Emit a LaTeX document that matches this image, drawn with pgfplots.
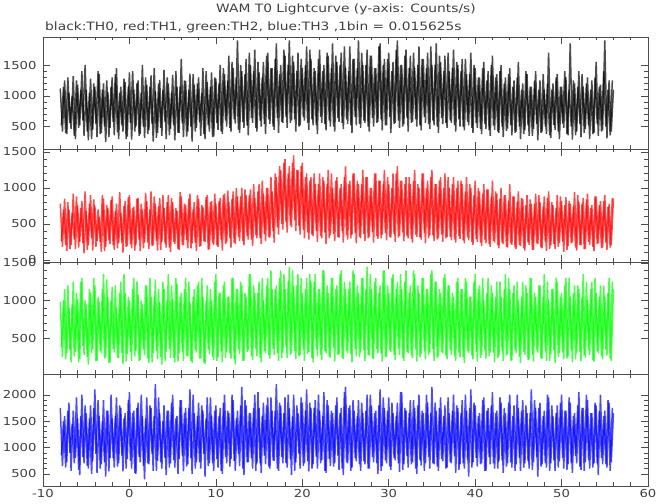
\documentclass[border=0pt]{standalone}
\usepackage{fontspec}
\setmainfont{DejaVu Sans}[FakeStretch=1.2]
\usepackage{pgfplots}
\pgfplotsset{compat=1.18}
\usepackage{pgfplotstable}

% bins on the quarter-second grid
\pgfplotstableread{
x b r g u
-8.00 1120 780 980 1750
-7.75 420 180 250 650
-7.50 1250 850 1150 1600
-7.25 380 120 300 720
-7.00 1050 700 900 1850
-6.75 460 210 180 560
-6.50 1320 920 1250 1700
-6.25 300 150 320 800
-6.00 1180 760 1020 1550
-5.75 520 250 220 480
-5.50 1400 820 1300 2000
-5.25 350 90 280 700
-5.00 1100 680 950 1650
-4.75 280 200 150 600
-4.50 1280 900 1100 1800
-4.25 450 130 350 750
-4.00 1150 750 1200 2100
-3.75 330 260 200 520
-3.50 1350 600 980 1600
-3.25 400 110 300 680
-3.00 1200 850 1350 1900
-2.75 250 180 250 450
-2.50 1060 720 1050 1700
-2.25 480 220 180 800
-2.00 1300 880 1180 1550
-1.75 360 140 310 620
-1.50 1450 780 900 1950
-1.25 300 230 240 700
-1.00 1150 650 1250 1750
-0.75 420 100 160 550
-0.50 1220 820 1100 1650
-0.25 340 190 290 780
0.00 1380 900 1000 2050
0.25 290 160 200 600
0.50 1100 740 1300 1700
0.75 500 210 330 500
1.00 1250 860 1080 1850
1.25 380 120 210 720
1.50 1500 700 950 1600
1.75 320 240 280 400
2.00 1180 820 1200 1950
2.25 440 150 170 680
2.50 1330 950 1050 1750
2.75 260 200 300 560
3.00 1080 780 1280 2200
3.25 400 130 220 750
3.50 1260 860 980 1650
3.75 350 250 150 600
4.00 1420 720 1150 1800
4.25 300 170 320 480
4.50 1200 900 1350 1700
4.75 460 110 240 700
5.00 1340 800 1020 2000
5.25 280 220 180 620
5.50 1150 680 1220 1600
5.75 400 140 300 780
6.00 1600 880 1100 1900
6.25 330 200 200 550
6.50 1240 760 1300 1750
6.75 420 160 260 680
7.00 1360 920 980 2100
7.25 260 230 170 500
7.50 1180 800 1150 1650
7.75 480 120 310 720
8.00 1300 850 1250 1850
8.25 350 190 230 600
8.50 1450 740 1050 1700
8.75 300 250 160 450
9.00 1220 900 1200 1950
9.25 420 150 290 700
9.50 1380 820 1000 1600
9.75 340 210 210 560
10.00 1280 780 1350 1800
10.25 450 180 250 620
10.50 1500 860 1100 1750
10.75 380 130 180 500
11.00 1350 920 1250 2000
11.25 500 240 320 700
11.50 1650 800 1050 1650
11.75 420 170 230 780
12.00 1450 950 1300 1900
12.25 550 220 150 560
12.50 1900 880 1150 1700
12.75 400 260 290 650
13.00 1400 1000 1200 2150
13.25 480 200 200 480
13.50 1600 900 1050 1800
13.75 360 280 340 720
14.00 1500 980 1350 1650
14.25 560 190 210 600
14.50 1750 860 1100 2000
14.75 420 300 260 700
15.00 1380 1050 1250 1750
15.25 500 220 180 520
15.50 1550 920 1000 1850
15.75 380 260 300 680
16.00 1700 1000 1300 1950
16.25 540 310 230 600
16.50 1450 950 1150 1700
16.75 450 240 280 750
17.00 1850 1150 1200 2200
17.25 400 350 200 560
17.50 1500 1250 1400 1800
17.75 560 420 310 700
18.00 1650 1400 1150 1950
18.25 480 380 240 620
18.50 1900 1300 1450 1750
18.75 600 450 300 480
19.00 1550 1450 1200 2000
19.25 420 400 220 720
19.50 1700 1250 1350 1650
19.75 520 350 280 600
20.00 1450 1350 1100 1850
20.25 600 300 200 700
20.50 1800 1200 1300 2100
20.75 450 280 320 550
21.00 1600 1150 1250 1750
21.25 520 330 180 680
21.50 1400 1050 1350 1900
21.75 380 250 260 600
22.00 1750 1200 1150 1700
22.25 560 300 210 760
22.50 1500 1100 1400 2050
22.75 440 220 300 520
23.00 1650 1250 1100 1800
23.25 500 340 240 650
23.50 1850 1000 1300 1650
23.75 420 260 190 700
24.00 1550 1150 1200 1950
24.25 580 310 290 580
24.50 1700 1050 1400 1750
24.75 460 240 220 480
25.00 1450 1300 1150 2150
25.25 540 280 300 700
25.50 1800 1100 1250 1800
25.75 400 350 180 620
26.00 1600 1200 1350 1700
26.25 520 230 260 740
26.50 1900 1050 1100 1900
26.75 480 300 310 560
27.00 1500 1250 1300 1650
27.25 560 260 200 680
27.50 1750 1150 1450 2000
27.75 420 320 270 600
28.00 1650 1000 1150 1800
28.25 500 240 220 720
28.50 1450 1200 1300 1700
28.75 580 290 300 500
29.00 1850 1100 1200 2100
29.25 440 350 190 650
29.50 1600 1250 1400 1750
29.75 520 270 250 700
30.00 1700 1050 1100 1950
30.25 400 310 320 580
30.50 1550 1200 1350 1650
30.75 560 250 210 760
31.00 1900 1300 1250 1850
31.25 480 330 280 540
31.50 1500 1100 1150 2050
31.75 540 260 200 680
32.00 1750 1150 1400 1700
32.25 420 300 300 620
32.50 1650 1050 1200 1900
32.75 580 240 240 720
33.00 1450 1250 1350 1750
33.25 500 320 190 500
33.50 1800 1000 1100 2000
33.75 440 280 290 660
34.00 1600 1200 1300 1650
34.25 560 230 220 700
34.50 1700 1100 1150 1850
34.75 460 340 310 600
35.00 1500 1250 1400 2150
35.25 520 260 200 680
35.50 1850 1050 1250 1700
35.75 400 300 260 560
36.00 1550 1150 1100 1950
36.25 540 250 300 740
36.50 1650 1200 1350 1800
36.75 480 320 220 620
37.00 1400 1000 1200 1650
37.25 560 270 280 700
37.50 1750 1150 1050 2000
37.75 420 240 200 520
38.00 1500 1100 1300 1750
38.25 500 290 250 680
38.50 1600 1050 1150 1900
38.75 440 230 170 600
39.00 1350 1150 1250 1700
39.25 520 270 300 450
39.50 1700 1000 1050 2100
39.75 400 210 220 720
40.00 1450 1100 1350 1800
40.25 480 250 190 640
40.50 1300 950 1200 1650
40.75 380 190 280 700
41.00 1550 1050 1000 1950
41.25 460 230 230 560
41.50 1400 980 1300 1750
41.75 350 180 310 680
42.00 1650 1100 1100 2050
42.25 450 240 180 600
42.50 1350 920 1250 1700
42.75 400 160 260 740
43.00 1500 1000 1050 1850
43.25 330 220 200 520
43.50 1300 900 1350 1650
43.75 470 170 290 700
44.00 1450 1050 1150 2000
44.25 360 210 210 620
44.50 1250 880 1200 1800
44.75 420 150 300 680
45.00 1550 950 1000 1750
45.25 300 190 170 560
45.50 1200 850 1250 1900
45.75 440 130 280 700
46.00 1350 900 1100 1650
46.25 350 210 220 600
46.50 1150 780 1300 2100
46.75 460 140 190 720
47.00 1400 920 1050 1750
47.25 280 220 310 450
47.50 1250 800 1200 1850
47.75 420 160 230 680
48.00 1100 880 1350 1700
48.25 380 120 200 620
48.50 1700 950 1000 1950
48.75 320 200 290 700
49.00 1200 760 1150 1600
49.25 450 150 170 560
49.50 1350 900 1250 1800
49.75 300 230 300 740
50.00 1150 820 1100 2000
50.25 480 110 220 600
50.50 1300 870 1300 1700
50.75 360 190 260 680
51.00 1850 780 1050 1850
51.25 290 240 180 520
51.50 1200 940 1200 1650
51.75 420 130 310 700
52.00 1400 800 1150 2050
52.25 330 200 200 580
52.50 1150 860 1350 1750
52.75 460 150 240 720
53.00 1300 920 1000 1900
53.25 300 210 280 600
53.50 1250 760 1250 1650
53.75 400 120 190 700
54.00 1550 880 1100 1800
54.25 350 230 300 480
54.50 1180 820 1200 2000
54.75 440 170 220 680
55.00 1900 900 1050 1700
55.25 310 140 270 620
55.50 1250 780 1300 1850
55.75 420 200 200 720
56.00 1100 850 1150 1650
}\lca

% bins offset by an eighth of a second
\pgfplotstableread{
x b r g u
-7.875 520 260 380 850
-7.625 1150 700 1000 1500
-7.375 400 200 220 620
-7.125 1300 800 1200 1700
-6.875 560 150 350 900
-6.625 1000 650 950 1450
-6.375 350 280 260 700
-6.125 1250 880 1100 1950
-5.875 480 170 180 580
-5.625 1100 720 1250 1600
-5.375 600 230 400 820
-5.125 1500 950 1000 1800
-4.875 420 140 250 650
-4.625 1050 780 1150 1550
-4.375 300 300 300 500
-4.125 1200 840 1300 1750
-3.875 550 180 200 880
-3.625 1400 700 1050 1900
-3.375 380 250 340 600
-3.125 1100 900 1150 1500
-2.875 500 120 230 720
-2.625 1250 760 1280 1700
-2.375 330 270 170 550
-2.125 1150 830 1000 2000
-1.875 580 200 360 800
-1.625 1350 680 1200 1600
-1.375 410 160 240 640
-1.125 1050 940 1100 1800
-0.875 520 240 300 850
-0.625 1280 750 1350 1550
-0.375 300 180 190 600
-0.125 1150 870 1050 1900
0.125 560 220 320 750
0.375 1400 720 1150 1650
0.625 420 130 260 520
0.875 1200 850 1250 1750
1.125 350 280 200 820
1.375 1050 780 1000 2000
1.625 500 160 350 650
1.875 1300 930 1200 1550
2.125 380 240 230 700
2.375 1150 700 1300 1800
2.625 540 190 180 880
2.875 1450 880 1050 1600
3.125 320 260 330 560
3.375 1200 750 1150 1950
3.625 480 140 250 720
3.875 1100 900 1250 1500
4.125 580 230 200 800
4.375 1300 800 1000 1700
4.625 360 170 360 620
4.875 1050 860 1200 1850
5.125 520 250 240 760
5.375 1400 720 1300 1550
5.625 400 150 190 500
5.875 1150 940 1050 1900
6.125 550 210 320 850
6.375 1250 780 1150 1650
6.625 340 270 260 640
6.875 1100 850 1250 1750
7.125 500 160 200 800
7.375 1350 700 1050 2000
7.625 420 240 340 600
7.875 1200 900 1200 1600
8.125 580 180 230 720
8.375 1050 760 1300 1800
8.625 380 260 180 880
8.875 1400 870 1000 1550
9.125 520 140 350 650
9.375 1150 800 1150 1950
9.625 330 230 250 700
9.875 1300 920 1250 1700
10.125 560 200 200 780
10.375 1200 820 1100 1600
10.625 420 280 330 560
10.875 1450 900 1200 1850
11.125 600 220 240 820
11.375 1250 960 1050 1700
11.625 480 300 300 640
11.875 1550 850 1300 2000
12.125 620 240 220 750
12.375 1300 1000 1150 1550
12.625 450 320 350 880
12.875 1500 880 1250 1800
13.125 580 260 200 600
13.375 1350 980 1100 1900
13.625 520 330 320 720
13.875 1700 900 1350 1650
14.125 640 280 260 800
14.375 1400 1050 1200 1750
14.625 480 340 360 560
14.875 1550 950 1100 2050
15.125 600 300 240 700
15.375 1300 1100 1300 1600
15.625 540 360 330 850
15.875 1650 1000 1200 1800
16.125 620 320 280 640
16.375 1450 1150 1400 1950
16.625 500 400 360 760
16.875 1600 1200 1150 1700
17.125 640 450 300 600
17.375 1350 1300 1300 1850
17.625 580 500 240 820
17.875 1750 1350 1350 1650
18.125 660 520 380 700
18.375 1500 1200 1250 2000
18.625 560 480 280 780
18.875 1650 1350 1400 1600
19.125 620 550 330 560
19.375 1400 1250 1200 1800
19.625 500 470 260 880
19.875 1600 1300 1300 1950
20.125 650 420 350 650
20.375 1500 1150 1150 1700
20.625 560 380 290 740
20.875 1750 1100 1350 1850
21.125 620 350 240 600
21.375 1450 1200 1250 1750
21.625 520 400 360 820
21.875 1600 1050 1150 2000
22.125 660 330 280 700
22.375 1400 1150 1400 1600
22.625 540 380 330 560
22.875 1700 1050 1200 1900
23.125 600 300 250 780
23.375 1450 1200 1300 1700
23.625 500 360 370 640
23.875 1650 1100 1150 1800
24.125 640 320 280 850
24.375 1500 1000 1350 1650
24.625 560 400 240 600
24.875 1800 1150 1250 2050
25.125 620 340 330 720
25.375 1400 1050 1150 1750
25.625 520 300 290 560
25.875 1600 1200 1400 1900
26.125 660 380 360 800
26.375 1450 1100 1200 1600
26.625 540 320 250 680
26.875 1700 1050 1300 1850
27.125 600 360 340 740
27.375 1500 1150 1150 1700
27.625 500 300 280 600
27.875 1650 1000 1350 2000
28.125 640 390 230 820
28.375 1450 1200 1250 1650
28.625 560 330 360 700
28.875 1800 1100 1100 1800
29.125 620 300 300 560
29.375 1500 1050 1400 1950
29.625 520 370 250 760
29.875 1600 1150 1200 1700
30.125 660 320 340 640
30.375 1400 1000 1300 1850
30.625 540 360 280 800
30.875 1750 1200 1150 1600
31.125 600 310 360 700
31.375 1500 1100 1350 2050
31.625 500 380 240 580
31.875 1650 1050 1250 1750
32.125 640 330 320 840
32.375 1450 1150 1100 1650
32.625 560 290 270 680
32.875 1700 1100 1400 1900
33.125 620 350 350 600
33.375 1500 1050 1200 1800
33.625 520 310 250 760
33.875 1600 1200 1300 1700
34.125 660 370 330 560
34.375 1450 1000 1150 2000
34.625 540 300 280 820
34.875 1800 1150 1350 1650
35.125 600 340 360 700
35.375 1500 1050 1250 1850
35.625 500 280 240 640
35.875 1650 1100 1150 1750
36.125 640 350 320 780
36.375 1400 1000 1300 1600
36.625 560 300 270 600
36.875 1700 1150 1200 1950
37.125 600 320 340 720
37.375 1450 1050 1100 1700
37.625 520 280 260 840
37.875 1550 1000 1250 1800
38.125 620 330 310 580
38.375 1400 1100 1150 1650
38.625 500 270 250 700
38.875 1600 950 1300 2000
39.125 580 310 330 760
39.375 1350 1050 1050 1750
39.625 480 250 270 620
39.875 1500 900 1250 1850
40.125 560 290 320 800
40.375 1300 1000 1150 1600
40.625 460 240 240 680
40.875 1450 920 1300 1900
41.125 540 280 340 560
41.375 1250 980 1100 1700
41.625 440 220 260 820
41.875 1500 880 1200 1800
42.125 520 260 310 700
42.375 1300 950 1050 1650
42.625 420 200 240 600
42.875 1400 850 1250 1950
43.125 500 240 330 760
43.375 1200 900 1150 1750
43.625 430 180 270 640
43.875 1350 820 1300 1850
44.125 520 230 200 720
44.375 1150 880 1100 1600
44.625 400 170 340 560
44.875 1300 800 1250 2000
45.125 500 210 250 800
45.375 1100 860 1050 1700
45.625 380 160 320 620
45.875 1400 760 1200 1800
46.125 520 240 210 740
46.375 1150 840 1300 1650
46.625 350 140 280 580
46.875 1250 780 1100 1900
47.125 540 230 350 820
47.375 1100 900 1200 1750
47.625 400 170 230 640
47.875 1350 740 1050 1600
48.125 500 250 330 700
48.375 1200 860 1250 2000
48.625 360 150 200 560
48.875 1100 800 1150 1800
49.125 530 220 340 760
49.375 1300 720 1300 1650
49.625 420 180 250 620
49.875 1150 880 1050 1850
50.125 550 250 310 800
50.375 1400 760 1200 1700
50.625 380 140 230 580
50.875 1100 820 1300 1950
51.125 500 230 350 700
51.375 1250 740 1100 1600
51.625 360 170 220 840
51.875 1150 900 1200 1800
52.125 540 210 320 640
52.375 1350 780 1050 1750
52.625 400 150 270 560
52.875 1200 840 1250 2000
53.125 520 250 340 760
53.375 1100 720 1150 1650
53.625 380 180 210 620
53.875 1300 880 1300 1850
54.125 550 220 330 700
54.375 1150 760 1050 1700
54.625 420 160 260 800
54.875 1400 820 1200 1600
55.125 500 240 350 680
55.375 1100 740 1100 1900
55.625 360 170 230 560
55.875 1250 860 1250 1750
}\lcb

\pgfplotsset{
  panel/.style={
    scale only axis, width=605pt, height=112pt, anchor=south west,
    xmin=-10, xmax=60, xtick={-10,0,...,60}, minor x tick num=4,
    minor y tick num=4,
    tick align=inside, xtick pos=both, ytick pos=both,
    major tick length=7pt, minor tick length=3.5pt,
    axis line style={black!70, line width=0.6pt},
    every tick/.style={black!70, line width=0.5pt},
    tick label style={font=\fontsize{11}{12}\selectfont, text=black!75},
    /pgf/number format/assume math mode=true,
    /pgf/number format/1000 sep={},
    yticklabel style={xshift=-3pt},
  },
  series/.style={line width=1.5pt, opacity=0.7, line join=miter, miter limit=2},
}

\begin{document}
\begin{tikzpicture}
\useasboundingbox (0,0) rectangle (657pt,504pt);
\begin{axis}[panel, at={(43pt,355pt)}, ymin=138, ymax=1954, ytick={500,1000,1500}, xticklabels={}]
\addplot[series, black] table[x=x, y=b] {\lca};
\addplot[series, black] table[x=x, y=b] {\lcb};
\end{axis}
\begin{axis}[panel, at={(43pt,242pt)}, height=113pt, ymin=-30, ymax=1540, ytick={0,500,1000,1500}, xticklabels={}]
\addplot[series, red] table[x=x, y=r] {\lca};
\addplot[series, red] table[x=x, y=r] {\lcb};
\end{axis}
\begin{axis}[panel, at={(43pt,130pt)}, ymin=27, ymax=1510, ytick={500,1000,1500}, xticklabels={}]
\addplot[series, green] table[x=x, y=g] {\lca};
\addplot[series, green] table[x=x, y=g] {\lcb};
\end{axis}
\begin{axis}[panel, at={(43pt,18pt)}, ymin=272, ymax=2393, ytick={500,1000,1500,2000}]
\addplot[series, blue] table[x=x, y=u] {\lca};
\addplot[series, blue] table[x=x, y=u] {\lcb};
\end{axis}
\node[font=\fontsize{11.5}{12}\selectfont, text=black!75, anchor=base] at (346pt,491pt) {WAM T0 Lightcurve (y-axis: Counts/s)};
\node[font=\fontsize{11.5}{12}\selectfont, text=black!75, anchor=base west, inner sep=0pt] at (45pt,473pt) {black:TH0, red:TH1, green:TH2, blue:TH3 ,1bin = 0.015625s};
\end{tikzpicture}
\end{document}
